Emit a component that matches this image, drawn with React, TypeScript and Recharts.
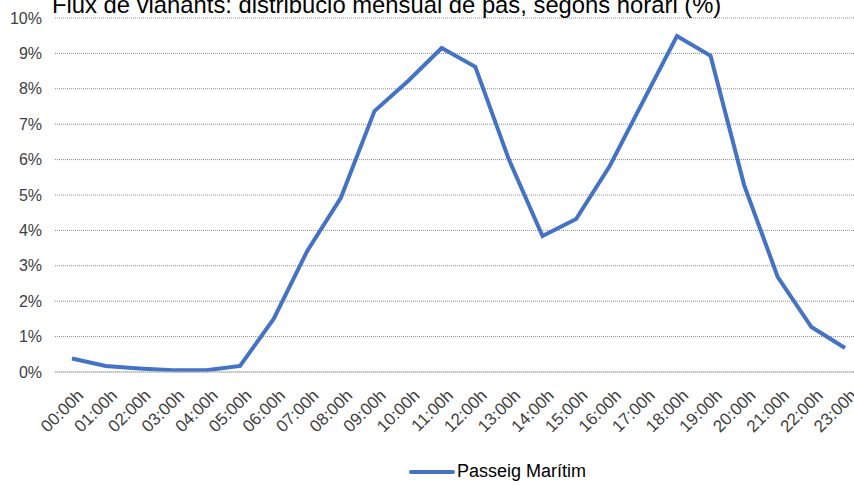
import { CartesianGrid, Legend, Line, LineChart, XAxis, YAxis } from "recharts";

const hours = [
  "00:00h", "01:00h", "02:00h", "03:00h", "04:00h", "05:00h", "06:00h", "07:00h",
  "08:00h", "09:00h", "10:00h", "11:00h", "12:00h", "13:00h", "14:00h", "15:00h",
  "16:00h", "17:00h", "18:00h", "19:00h", "20:00h", "21:00h", "22:00h", "23:00h",
];

const passeigMaritim = [
  0.38, 0.17, 0.1, 0.05, 0.05, 0.17, 1.5, 3.42, 4.92, 7.37, 8.22, 9.15,
  8.62, 6.0, 3.84, 4.32, 5.82, 7.66, 9.49, 8.93, 5.28, 2.68, 1.27, 0.68,
];

const yTicks = [0, 1, 2, 3, 4, 5, 6, 7, 8, 9, 10];

const data = hours.map((h, i) => ({ hour: h, value: passeigMaritim[i] }));

const font = "'Liberation Sans', Arial, sans-serif";

const LegendContent = () => (
  <div
    style={{
      display: "flex",
      alignItems: "center",
      justifyContent: "center",
      fontFamily: font,
      fontSize: 18,
      color: "#000",
    }}
  >
    <svg width={48} height={10} style={{ marginRight: 1 }}>
      <line x1={3} y1={5} x2={45} y2={5} stroke="#4472C4" strokeWidth={4} strokeLinecap="round" />
    </svg>
    <span>Passeig Marítim</span>
  </div>
);

export default function App() {
  return (
    <div style={{ position: "absolute", left: 0, top: 0, width: 854, height: 485, overflow: "hidden", background: "#fff" }}>
      <div
        style={{
          position: "absolute",
          left: 52,
          top: -7,
          fontFamily: font,
          fontSize: 23.8,
          lineHeight: "24px",
          color: "#000",
          whiteSpace: "nowrap",
          zIndex: 2,
        }}
      >
        Flux de vianants: distribució mensual de pas, segons horari (%)
      </div>
      <LineChart
        width={862}
        height={485}
        data={data}
        margin={{ top: 18, right: 0, left: 0, bottom: 16 }}
      >
        <CartesianGrid vertical={false} stroke="#8c8c8c" strokeDasharray="1 1" />
        <XAxis
          dataKey="hour"
          interval={0}
          angle={-45}
          textAnchor="end"
          height={63}
          padding={{ left: 17, right: 17 }}
          axisLine={{ stroke: "#bfbfbf" }}
          tickLine={false}
          tick={{ fontFamily: font, fontSize: 17, fill: "#404040" }}
          dy={8}
          dx={4}
        />
        <YAxis
          domain={[0, 10]}
          ticks={yTicks}
          width={55}
          axisLine={false}
          tickLine={false}
          tickFormatter={(v: number) => `${v}%`}
          tick={{ fontFamily: font, fontSize: 16, fill: "#404040" }}
          dx={-5}
        />
        <Legend
          verticalAlign="bottom"
          height={34}
          content={<LegendContent />}
          wrapperStyle={{ left: 66, top: 461, bottom: "auto" }}
        />
        <Line
          type="linear"
          dataKey="value"
          stroke="#4472C4"
          strokeWidth={4}
          dot={false}
          isAnimationActive={false}
        />
      </LineChart>
    </div>
  );
}
